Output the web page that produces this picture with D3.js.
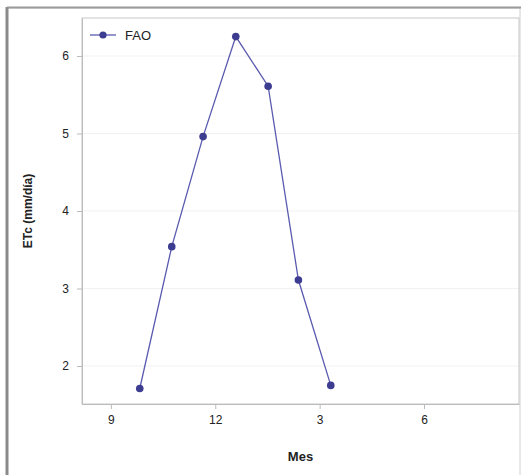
<!DOCTYPE html>
<html><head><meta charset="utf-8">
<script src="https://cdn.jsdelivr.net/npm/d3@7"></script>
<style>body{margin:0;background:#fff}svg{display:block}</style>
</head><body>
<script>
const seriesName = "FAO";
const months = [9.83, 10.75, 11.65, 12.59, 13.52, 14.39, 15.32];
const etc = [1.71, 3.54, 4.96, 6.25, 5.61, 3.11, 1.75];
const xTicks = [9, 12, 15, 18];
const xTickLabels = ["9", "12", "3", "6"];
const yTicks = [2, 3, 4, 5, 6];

const W = 521, H = 475;
const m = {left: 82, top: 18, right: 519, bottom: 404};
const svg = d3.select("body").append("svg").attr("width", W).attr("height", H);
const font = "Liberation Sans, Arial, sans-serif";

// outer frame
svg.append("rect").attr("x", 7).attr("y", 8).attr("width", 513).attr("height", 470)
  .attr("fill", "#fff").attr("stroke", "#d0d0d0").attr("stroke-width", 1);
svg.append("line").attr("x1", 7).attr("x2", 7).attr("y1", 7).attr("y2", H).attr("stroke", "#8a8a8a").attr("stroke-width", 3);
svg.append("line").attr("x1", 7).attr("x2", W).attr("y1", 7.5).attr("y2", 7.5).attr("stroke", "#9a9a9a").attr("stroke-width", 2);

const x = d3.scaleLinear().domain([8.17, 20.73]).range([m.left, m.right]);
const y = d3.scaleLinear().domain([1.51, 6.49]).range([m.bottom, m.top]);

// gridlines
svg.append("g").selectAll("line").data(yTicks).join("line")
  .attr("x1", m.left).attr("x2", m.right).attr("y1", d => y(d)).attr("y2", d => y(d))
  .attr("stroke", "#f1f1f1");

// plot border
svg.append("rect").attr("x", m.left).attr("y", m.top).attr("width", m.right - m.left).attr("height", m.bottom - m.top)
  .attr("fill", "none").attr("stroke", "#c8c8c8");

// axes
const xAxis = d3.axisBottom(x).tickValues(xTicks).tickFormat((d, i) => xTickLabels[i]).tickSize(5).tickSizeOuter(0).tickPadding(6);
const gx = svg.append("g").attr("transform", `translate(0,${m.bottom})`).call(xAxis);
gx.select(".domain").attr("stroke", "#bbb");
gx.selectAll(".tick line").attr("stroke", "#bbb");
gx.selectAll("text").attr("font-family", font).attr("font-size", 12).attr("fill", "#222");

const yAxis = d3.axisLeft(y).tickValues(yTicks).tickFormat(d3.format("d")).tickSize(5).tickSizeOuter(0).tickPadding(8);
const gy = svg.append("g").attr("transform", `translate(${m.left},0)`).call(yAxis);
gy.select(".domain").attr("stroke", "#bbb");
gy.selectAll(".tick line").attr("stroke", "#bbb");
gy.selectAll("text").attr("font-family", font).attr("font-size", 12).attr("fill", "#222");

// titles
svg.append("text").attr("x", (m.left + m.right) / 2).attr("y", 461).attr("text-anchor", "middle")
  .attr("font-family", font).attr("font-size", 13).attr("font-weight", "bold").attr("fill", "#222").text("Mes");
svg.append("text").attr("transform", `translate(32,${(m.top + m.bottom) / 2}) rotate(-90)`).attr("text-anchor", "middle")
  .attr("font-family", font).attr("font-size", 12).attr("font-weight", "bold").attr("fill", "#222").text("ETc (mm/día)");

// series
const data = months.map((d, i) => ({x: d, y: etc[i]}));
svg.append("path").datum(data).attr("fill", "none").attr("stroke", "#5a5ab0").attr("stroke-width", 1.3)
  .attr("d", d3.line().x(d => x(d.x)).y(d => y(d.y)));
svg.append("g").selectAll("circle").data(data).join("circle")
  .attr("cx", d => x(d.x)).attr("cy", d => y(d.y)).attr("r", 3.8).attr("fill", "#3c3c90");

// legend
const lg = svg.append("g");
lg.append("line").attr("x1", 90).attr("x2", 116).attr("y1", 35).attr("y2", 35).attr("stroke", "#5a5ab0").attr("stroke-width", 1.3);
lg.append("circle").attr("cx", 103).attr("cy", 35).attr("r", 3.6).attr("fill", "#3c3c90");
lg.append("text").attr("x", 125).attr("y", 40).attr("font-family", font).attr("font-size", 13).attr("fill", "#222").text(seriesName);
</script>
</body></html>
